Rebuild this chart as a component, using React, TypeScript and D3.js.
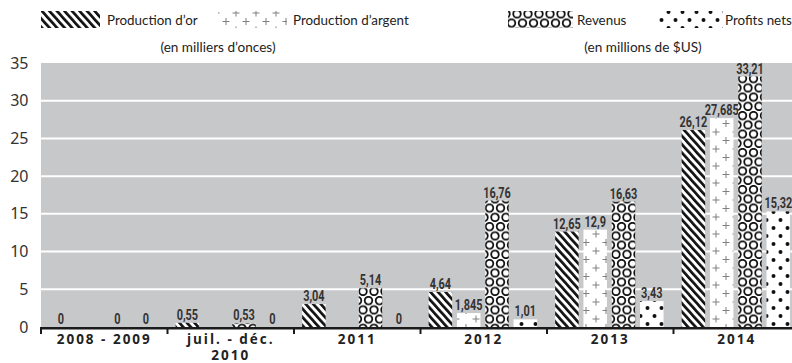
import React from "react";
import * as d3 from "d3";

const categories = ["2008 - 2009", "juil. - déc.|2010", "2011", "2012", "2013", "2014"];
const goldProduction: (number | null)[] = [0, 0.55, 3.04, 4.64, 12.65, 26.12];
const silverProduction: (number | null)[] = [null, null, null, 1.845, 12.9, 27.685];
const revenues: (number | null)[] = [0, 0.53, 5.14, 16.76, 16.63, 33.21];
const netProfits: (number | null)[] = [0, 0, 0, 1.01, 3.43, 15.32];
const yTicks = [0, 5, 10, 15, 20, 25, 30, 35];
const seriesNames = ["Production d’or", "Production d’argent", "Revenus", "Profits nets"];
const seriesKeys = ["gold", "silver", "rev", "profit"];

const W = 792, H = 363;
const left = 41, catW = 126.5;
const y0 = 327, yTop = 63;

export default function App() {
  const x0 = d3.scaleBand<string>().domain(categories).range([left, left + catW * categories.length]).padding(0);
  const x1 = d3.scaleBand<string>().domain(seriesKeys).range([0, x0.bandwidth()]).paddingInner(0.17).paddingOuter(0.32).align(0.45);
  const y = d3.scaleLinear().domain([0, 35]).range([y0, yTop]);
  const seriesData = [goldProduction, silverProduction, revenues, netProfits];
  const fmt = (v: number) => String(v).replace(".", ",");
  const labelFont = "Roboto, 'Noto Sans', sans-serif";
  const textFont = "Lato, 'Noto Sans', sans-serif";

  const legendItems = [
    { sx: 41, sw: 59, tx: 107 },
    { sx: 218, sw: 69, tx: 293 },
    { sx: 508, sw: 65, tx: 577 },
    { sx: 657, sw: 66, tx: 725 },
  ];

  return (
    <svg width={W} height={H} style={{ position: "absolute", left: 0, top: 0 }} xmlns="http://www.w3.org/2000/svg">
      <defs>
        <pattern id="p-gold" patternUnits="userSpaceOnUse" width="5.6" height="5.6" patternTransform="rotate(-42)">
          <rect width="5.6" height="5.6" fill="#fff" />
          <rect x="0" y="0" width="2.7" height="5.6" fill="#111" />
        </pattern>
        <pattern id="p-silver" patternUnits="userSpaceOnUse" width="20" height="17" x="0" y="0">
          <rect width="20" height="17" fill="#fff" />
          <path d="M6,1 V8 M2.5,4.5 H9.5 M16,9.5 V16.5 M12.5,13 H19.5" stroke="#808080" strokeWidth="1" fill="none" />
        </pattern>
        <pattern id="p-rev" patternUnits="userSpaceOnUse" width="11" height="18.5">
          <rect width="11" height="18.5" fill="#fff" />
          <g fill="none" stroke="#111" strokeWidth="1.8">
            <circle cx="5.5" cy="4.6" r="3.8" />
            <circle cx="0" cy="13.9" r="3.8" />
            <circle cx="11" cy="13.9" r="3.8" />
            <circle cx="0" cy="-4.6" r="3.8" />
            <circle cx="11" cy="-4.6" r="3.8" />
            <circle cx="5.5" cy="23.1" r="3.8" />
          </g>
        </pattern>
        <pattern id="p-profit" patternUnits="userSpaceOnUse" width="14" height="16">
          <rect width="14" height="16" fill="#fff" />
          <circle cx="3.5" cy="4" r="2" fill="#111" />
          <circle cx="10.5" cy="12" r="2" fill="#111" />
        </pattern>
      </defs>

      {/* plot background */}
      <rect x={left} y={yTop} width={W - left} height={y0 - yTop} fill="#c7c8ca" />
      {yTicks.filter((t) => t > 0 && t < 35).map((t) => (
        <line key={t} x1={left} x2={W} y1={y(t)} y2={y(t)} stroke="#fff" strokeWidth={2} />
      ))}
      {yTicks.map((t) => (
        <text key={t} x={28.5} y={y(t)} dy="0.35em" textAnchor="end" fontFamily="'Noto Sans', 'Open Sans', sans-serif" fontSize={16} fill="#333">
          {t}
        </text>
      ))}

      {/* bars */}
      {categories.map((c, ci) => (
        <g key={c}>
          {seriesKeys.map((k, si) => {
            const v = seriesData[si][ci];
            if (v === null) return null;
            const bx = (x0(c) as number) + (x1(k) as number);
            const bw = x1.bandwidth();
            return (
              <g key={k}>
                {v > 0 && <rect x={bx} y={y(v)} width={bw} height={y0 - y(v)} fill={`url(#p-${k})`} />}
                <text
                  transform={`translate(${bx + bw / 2},${y(v) - 3}) scale(0.78,1)`}
                  textAnchor="middle"
                  fontFamily={labelFont}
                  fontWeight="bold"
                  fontSize={14}
                  fill="#333"
                >
                  {fmt(v)}
                </text>
              </g>
            );
          })}
        </g>
      ))}

      {/* x axis */}
      <line x1={left} x2={W} y1={y0 + 1.2} y2={y0 + 1.2} stroke="#1a1a1a" strokeWidth={2.4} />
      {categories.map((c) => (
        <line key={c} x1={x0(c) as number} x2={x0(c) as number} y1={y0} y2={y0 + 7} stroke="#1a1a1a" strokeWidth={2} />
      ))}
      {categories.map((c) => {
        const lines = c.split("|");
        const cx = (x0(c) as number) + x0.bandwidth() / 2;
        return (
          <text key={c} textAnchor="middle" fontFamily="'Open Sans', 'Noto Sans', sans-serif" fontWeight="bold" fontSize={13.5} letterSpacing={2} fill="#222">
            {lines.map((l, i) => (
              <tspan key={i} x={cx} y={344 + i * 15.5}>{l}</tspan>
            ))}
          </text>
        );
      })}

      {/* legend */}
      {legendItems.map((it, i) => (
        <g key={i}>
          <rect x={it.sx} y={11} width={it.sw} height={17} fill={`url(#p-${seriesKeys[i]})`} />
          <text x={it.tx} y={25} fontFamily={textFont} fontSize={13.4} fill="#222">{seriesNames[i]}</text>
        </g>
      ))}
      <text x={218} y={52} textAnchor="middle" fontFamily={textFont} fontSize={13.6} fill="#222">(en milliers d’onces)</text>
      <text x={643} y={52} textAnchor="middle" fontFamily={textFont} fontSize={13.6} fill="#222">(en millions de $US)</text>
    </svg>
  );
}
